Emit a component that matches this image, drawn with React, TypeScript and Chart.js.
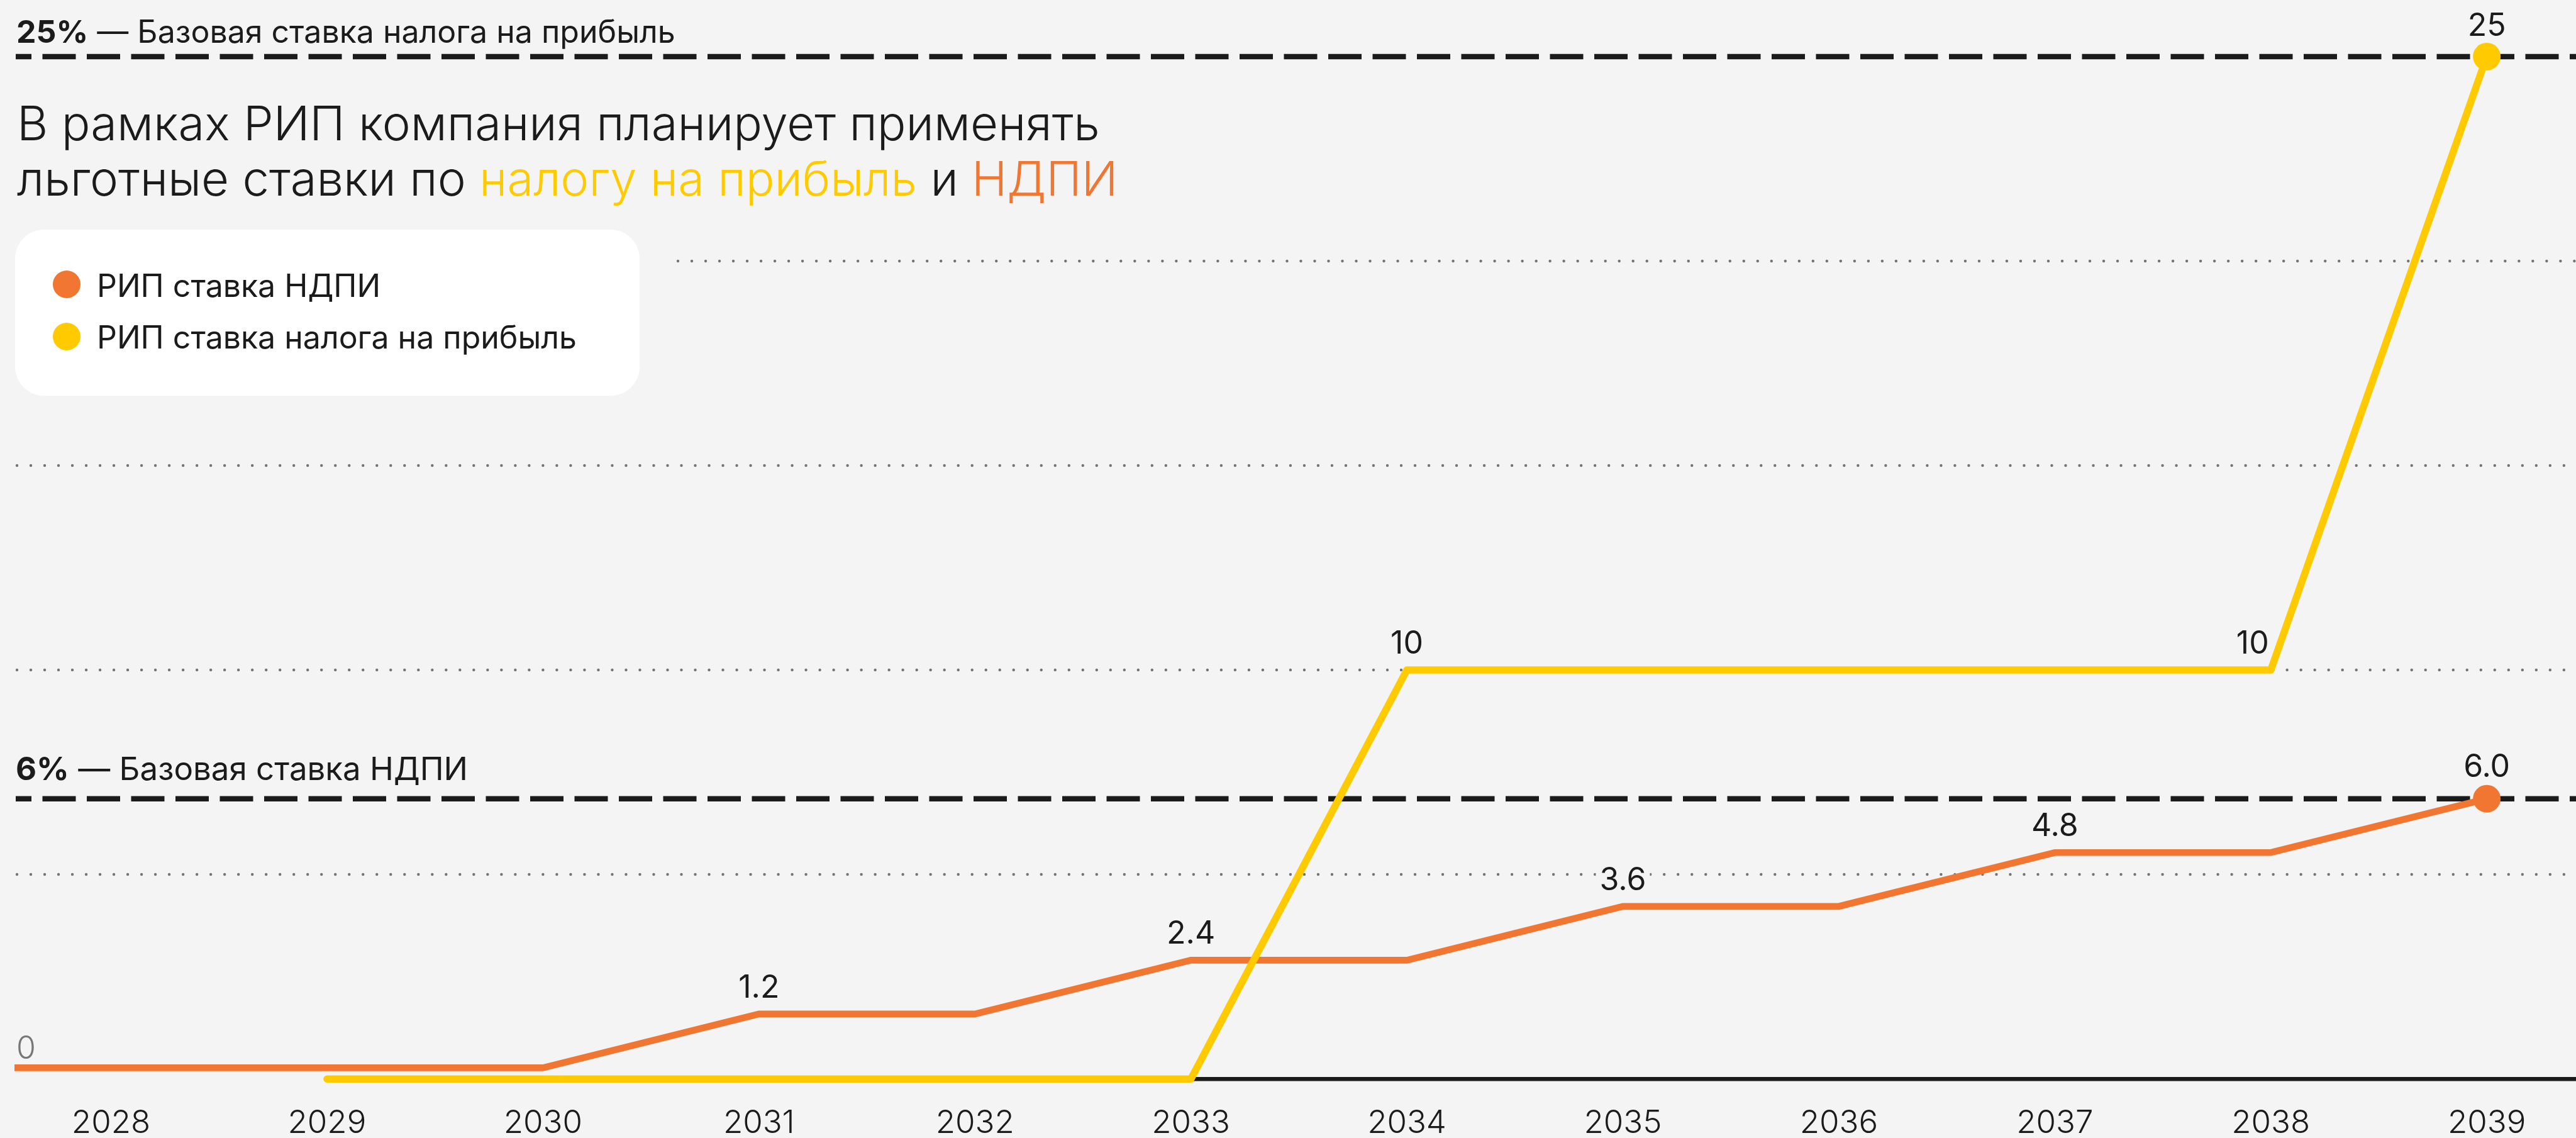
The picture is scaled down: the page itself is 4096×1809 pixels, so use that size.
import React, { useEffect, useRef } from 'react';
import { Chart, registerables } from 'chart.js';

Chart.register(...registerables);

// ---------- data ----------
const YEARS = [2028, 2029, 2030, 2031, 2032, 2033, 2034, 2035, 2036, 2037, 2038, 2039];

// НДПИ (mineral extraction tax) — line runs in from before 2028 at 0
const NDPI_YEARS = [2027, 2028, 2029, 2030, 2031, 2032, 2033, 2034, 2035, 2036, 2037, 2038, 2039];
const NDPI_RATE = [0, 0, 0, 0, 1.2, 1.2, 2.4, 2.4, 3.6, 3.6, 4.8, 4.8, 6.0];
const NDPI_LABEL_YEARS = [2031, 2033, 2035, 2037, 2039];

// Profit tax
const PROFIT_YEARS = [2029, 2030, 2031, 2032, 2033, 2034, 2035, 2036, 2037, 2038, 2039];
const PROFIT_RATE = [0, 0, 0, 0, 0, 10, 10, 10, 10, 10, 25];
const PROFIT_LABEL_YEARS = [2034, 2038, 2039];
const PROFIT_LABEL_RIGHT_YEARS = [2038];

const BASE_PROFIT_RATE = 25;
const BASE_NDPI_RATE = 6;
const GRID_VALUES = [5, 10, 15, 20];

const SERIES_NAMES = ['РИП ставка НДПИ', 'РИП ставка налога на прибыль'];
const BASE_PROFIT_TEXT = ['25%', ' — Базовая ставка налога на прибыль'];
const BASE_NDPI_TEXT = ['6%', ' — Базовая ставка НДПИ'];
const TITLE_LINE1 = 'В рамках РИП компания планирует применять';
const TITLE_LINE2 = ['льготные ставки по ', 'налогу на прибыль', ' и ', 'НДПИ'];

// ---------- style ----------
const W = 4096;
const H = 1809;
const BG = '#f4f4f4';
const DARK = '#1b1b1b';
const ORANGE = '#f07632';
const YELLOW = '#ffcb00';
const DOT_GRAY = '#747474';
const FONT = 'Inter, "Noto Sans", sans-serif';

const X_MIN = 2027.553;
const X_MAX = 2039.413;
const Y_MIN = -0.7368;
const Y_MAX = 26.3836;
const Y2_MIN = -0.9217;
const Y2_MAX = 23.812;

function font(weight: number, size: number) {
  return `${weight} ${size}px ${FONT}`;
}

function drawLabel(ctx: CanvasRenderingContext2D, text: string, x: number, y: number, align: CanvasTextAlign, f: string, color: string) {
  ctx.save();
  ctx.font = f;
  ctx.textAlign = align;
  ctx.textBaseline = 'alphabetic';
  const m = ctx.measureText(text);
  const w = m.width;
  const x0 = align === 'center' ? x - w / 2 : align === 'right' ? x - w : x;
  const asc = m.actualBoundingBoxAscent;
  ctx.fillStyle = BG;
  ctx.fillRect(x0 - 6, y - asc - 6, w + 12, asc + 10);
  ctx.fillStyle = color;
  ctx.fillText(text, x, y);
  ctx.restore();
}

function drawRuns(ctx: CanvasRenderingContext2D, runs: { text: string; font: string; color: string }[], x: number, y: number) {
  let cx = x;
  ctx.textAlign = 'left';
  ctx.textBaseline = 'alphabetic';
  for (const r of runs) {
    ctx.font = r.font;
    ctx.fillStyle = r.color;
    ctx.fillText(r.text, cx, y);
    cx += ctx.measureText(r.text).width;
  }
}

const decorPlugin = {
  id: 'decor',
  beforeDraw(chart: any) {
    const ctx = chart.ctx as CanvasRenderingContext2D;
    ctx.save();
    ctx.fillStyle = BG;
    ctx.fillRect(0, 0, chart.width, chart.height);
    ctx.restore();
  },
  beforeDatasetsDraw(chart: any) {
    const ctx = chart.ctx as CanvasRenderingContext2D;
    const xS = chart.scales.x;
    const yS = chart.scales.y;
    const y2S = chart.scales.y2;
    const area = chart.chartArea;
    const right = chart.width;

    // legend box geometry
    const lg = { x: 24, y: 365, w: 993, h: 264, r: 46 };

    // dotted grid
    ctx.save();
    ctx.strokeStyle = DOT_GRAY;
    ctx.lineWidth = 4.4;
    ctx.lineCap = 'round';
    ctx.setLineDash([0.01, 22]);
    for (const v of GRID_VALUES) {
      const py = Math.round(yS.getPixelForValue(v));
      const startX = py > lg.y - 10 && py < lg.y + lg.h + 10 ? lg.x + lg.w + 61 : area.left + 4;
      ctx.beginPath();
      ctx.moveTo(startX, py);
      ctx.lineTo(right, py);
      ctx.stroke();
    }
    ctx.restore();

    // zero baseline of profit-tax series
    ctx.save();
    ctx.strokeStyle = DARK;
    ctx.lineWidth = 6.6;
    const zy = yS.getPixelForValue(0);
    ctx.beginPath();
    ctx.moveTo(xS.getPixelForValue(PROFIT_YEARS[0]), zy);
    ctx.lineTo(right, zy);
    ctx.stroke();
    ctx.restore();

    // dashed base-rate lines
    const dashed = (py: number) => {
      ctx.save();
      ctx.strokeStyle = DARK;
      ctx.lineWidth = 8.5;
      ctx.setLineDash([53, 17.5]);
      ctx.lineDashOffset = 28;
      ctx.beginPath();
      ctx.moveTo(area.left + 2, py);
      ctx.lineTo(right, py);
      ctx.stroke();
      ctx.restore();
    };
    const p25 = yS.getPixelForValue(BASE_PROFIT_RATE);
    const p6 = y2S.getPixelForValue(BASE_NDPI_RATE);
    dashed(p25);
    dashed(p6);

    ctx.save();
    drawRuns(ctx, [
      { text: BASE_PROFIT_TEXT[0], font: font(700, 50), color: DARK },
      { text: BASE_PROFIT_TEXT[1], font: font(400, 50), color: DARK },
    ], area.left + 3, p25 - 22);
    drawRuns(ctx, [
      { text: BASE_NDPI_TEXT[0], font: font(700, 51), color: DARK },
      { text: BASE_NDPI_TEXT[1], font: font(400, 51), color: DARK },
    ], area.left + 2, p6 - 30);

    // title
    drawRuns(ctx, [{ text: TITLE_LINE1, font: font(300, 76), color: DARK }], 27, 223);
    drawRuns(ctx, [
      { text: TITLE_LINE2[0], font: font(300, 76), color: DARK },
      { text: TITLE_LINE2[1], font: font(300, 76), color: YELLOW },
      { text: TITLE_LINE2[2], font: font(300, 76), color: DARK },
      { text: TITLE_LINE2[3], font: font(300, 76), color: ORANGE },
    ], 27, 311);
    ctx.restore();

    // legend box
    ctx.save();
    ctx.fillStyle = '#ffffff';
    ctx.beginPath();
    (ctx as any).roundRect(lg.x, lg.y, lg.w, lg.h, lg.r);
    ctx.fill();
    const ds = chart.data.datasets;
    const rows = [{ cy: 452, by: 472 }, { cy: 535, by: 554 }];
    ds.forEach((d: any, i: number) => {
      ctx.fillStyle = d.borderColor;
      ctx.beginPath();
      ctx.arc(106, rows[i].cy, 22, 0, Math.PI * 2);
      ctx.fill();
      ctx.font = font(400, 50);
      ctx.fillStyle = DARK;
      ctx.textAlign = 'left';
      ctx.textBaseline = 'alphabetic';
      ctx.fillText(d.label, 154, rows[i].by);
    });
    ctx.restore();

    // data labels
    const lastNdpi = NDPI_YEARS[NDPI_YEARS.length - 1];
    NDPI_LABEL_YEARS.forEach((yr) => {
      const v = NDPI_RATE[NDPI_YEARS.indexOf(yr)];
      const px = xS.getPixelForValue(yr);
      const py = y2S.getPixelForValue(v);
      const off = yr === lastNdpi ? 35 : 26;
      drawLabel(ctx, v.toFixed(1), px, py - off, 'center', font(400, 50), DARK);
    });
    const lastProfit = PROFIT_YEARS[PROFIT_YEARS.length - 1];
    PROFIT_LABEL_YEARS.forEach((yr) => {
      const v = PROFIT_RATE[PROFIT_YEARS.indexOf(yr)];
      const px = xS.getPixelForValue(yr);
      const py = yS.getPixelForValue(v);
      const off = yr === lastProfit ? 33 : 26;
      const rightAl = PROFIT_LABEL_RIGHT_YEARS.includes(yr);
      drawLabel(ctx, String(v), rightAl ? px - 3 : px, py - off, rightAl ? 'right' : 'center', font(400, 50), DARK);
    });
    // start value label
    drawLabel(ctx, String(NDPI_RATE[0]), area.left + 3, y2S.getPixelForValue(NDPI_RATE[0]) - 14, 'left', font(300, 50), '#777777');
  },
};

export default function App() {
  const ref = useRef<HTMLCanvasElement | null>(null);

  useEffect(() => {
    document.body.style.margin = '0';
    document.body.style.overflow = 'hidden';
    const canvas = ref.current;
    if (!canvas) return;
    const lastRadius = (ctx: any) => (ctx.dataIndex === ctx.dataset.data.length - 1 ? 22 : 0);
    const chart = new Chart(canvas, {
      type: 'line',
      data: {
        datasets: [
          {
            label: SERIES_NAMES[0],
            data: NDPI_YEARS.map((yr, i) => ({ x: yr, y: NDPI_RATE[i] })),
            yAxisID: 'y2',
            borderColor: ORANGE,
            backgroundColor: ORANGE,
            borderWidth: 10.7,
            tension: 0,
            borderJoinStyle: 'miter',
            borderCapStyle: 'round',
            pointRadius: lastRadius,
            pointHoverRadius: lastRadius,
            pointBackgroundColor: ORANGE,
            pointBorderWidth: 0,
            clip: { left: 0, right: 40, top: 40, bottom: 40 },
            order: 2,
          } as any,
          {
            label: SERIES_NAMES[1],
            data: PROFIT_YEARS.map((yr, i) => ({ x: yr, y: PROFIT_RATE[i] })),
            yAxisID: 'y',
            borderColor: YELLOW,
            backgroundColor: YELLOW,
            borderWidth: 11.5,
            tension: 0,
            borderJoinStyle: 'round',
            borderCapStyle: 'round',
            pointRadius: lastRadius,
            pointHoverRadius: lastRadius,
            pointBackgroundColor: YELLOW,
            pointBorderWidth: 0,
            clip: 40,
            order: 1,
          } as any,
        ],
      },
      options: {
        responsive: false,
        animation: false,
        events: [],
        layout: { padding: { left: 23, right: 0, top: 0, bottom: 0 }, autoPadding: false },
        plugins: {
          legend: { display: false },
          tooltip: { enabled: false },
          title: { display: false },
        },
        scales: {
          x: {
            type: 'linear',
            min: X_MIN,
            max: X_MAX,
            grid: { display: false, drawTicks: false },
            border: { display: false },
            afterBuildTicks: (scale: any) => {
              scale.ticks = YEARS.map((v) => ({ value: v }));
            },
            ticks: {
              autoSkip: false,
              maxRotation: 0,
              padding: 0,
              color: DARK,
              font: { family: FONT, size: 51, weight: 300 as any, lineHeight: 0.9 },
              callback: (v: any) => String(v),
            },
          },
          y: {
            type: 'linear',
            display: false,
            min: Y_MIN,
            max: Y_MAX,
          },
          y2: {
            type: 'linear',
            display: false,
            position: 'left',
            min: Y2_MIN,
            max: Y2_MAX,
          },
        },
      } as any,
      plugins: [decorPlugin],
    });
    return () => chart.destroy();
  }, []);

  return (
    <div style={{ position: 'fixed', left: 0, top: 0, width: W, height: H, background: BG }}>
      <canvas ref={ref} width={W} height={H} style={{ display: 'block', width: W, height: H }} />
    </div>
  );
}
